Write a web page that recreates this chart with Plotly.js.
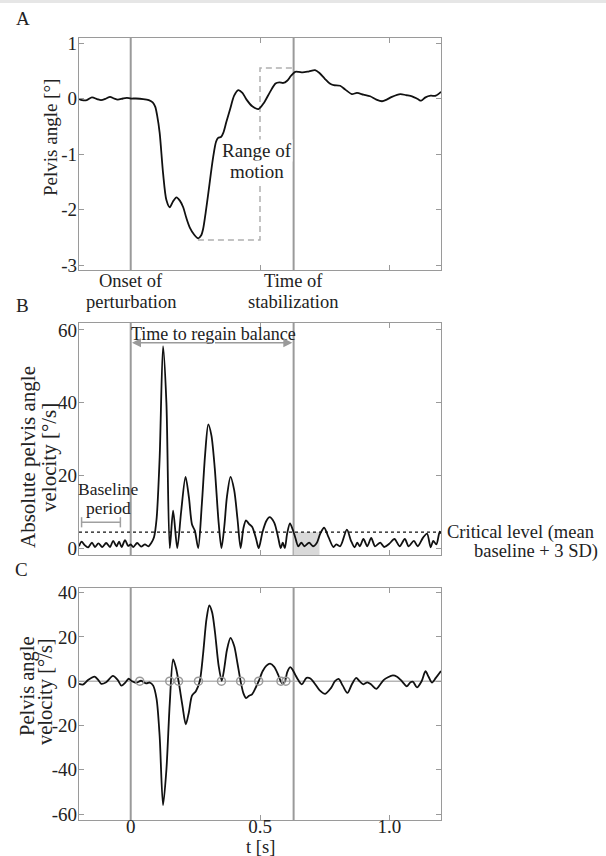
<!DOCTYPE html>
<html>
<head>
<meta charset="utf-8">
<script src="https://cdn.plot.ly/plotly-3.0.1.min.js"></script>
<style>html,body{margin:0;padding:0;background:#fff;}#chart{width:606px;height:856px;}</style>
</head>
<body>
<div id="chart"></div>
<script>
// ---------- data ----------
// Panel A: pelvis angle [deg]
const tA = [-0.2,-0.188,-0.17,-0.15,-0.13,-0.115,-0.095,-0.08,-0.065,-0.05,-0.03,-0.015,0,0.02,0.048,0.07,0.085,0.095,0.102,0.112,0.125,0.138,0.151,0.163,0.177,0.19,0.203,0.215,0.229,0.245,0.261,0.272,0.28,0.29,0.3,0.31,0.319,0.33,0.338,0.35,0.358,0.37,0.384,0.4,0.416,0.432,0.448,0.47,0.494,0.515,0.539,0.56,0.575,0.59,0.605,0.62,0.636,0.65,0.665,0.69,0.713,0.73,0.75,0.77,0.785,0.81,0.83,0.855,0.875,0.9,0.926,0.95,0.972,0.99,1.01,1.043,1.065,1.088,1.11,1.123,1.14,1.16,1.18,1.2];
const angleA = [-0.01,-0.03,-0.03,0.02,-0.01,-0.03,0.0,0.03,0.0,-0.02,0.0,0.01,0.0,0.0,-0.01,-0.03,-0.07,-0.15,-0.3,-0.62,-1.34,-1.83,-1.96,-1.86,-1.78,-1.84,-1.96,-2.15,-2.33,-2.45,-2.52,-2.47,-2.35,-2.05,-1.71,-1.35,-1.05,-0.78,-0.71,-0.69,-0.62,-0.42,-0.2,0.05,0.15,0.1,-0.02,-0.14,-0.19,-0.08,0.12,0.27,0.29,0.28,0.32,0.41,0.48,0.48,0.47,0.49,0.51,0.46,0.36,0.27,0.24,0.23,0.16,0.08,0.1,0.07,0.04,-0.02,-0.05,-0.02,0.03,0.08,0.06,0.04,-0.01,-0.04,0.02,0.05,0.05,0.12];
// Range of motion box (dashed)
const romT = [0.26, 0.5, 0.5, 0.63];
const romV = [-2.55, -2.55, 0.55, 0.55];

// Panel B: absolute pelvis angle velocity [deg/s]
const tB = [-0.2,-0.19,-0.178,-0.165,-0.15,-0.138,-0.125,-0.11,-0.095,-0.08,-0.068,-0.055,-0.045,-0.035,-0.022,-0.01,0,0.01,0.025,0.04,0.055,0.068,0.08,0.09,0.1,0.112,0.125,0.138,0.151,0.164,0.18,0.195,0.212,0.225,0.237,0.248,0.261,0.275,0.288,0.3,0.312,0.325,0.34,0.351,0.362,0.372,0.386,0.4,0.413,0.425,0.436,0.446,0.458,0.47,0.485,0.495,0.51,0.525,0.537,0.555,0.57,0.58,0.588,0.596,0.605,0.616,0.627,0.636,0.648,0.66,0.672,0.69,0.705,0.72,0.733,0.748,0.765,0.784,0.795,0.81,0.836,0.852,0.866,0.876,0.886,0.9,0.915,0.93,0.945,0.965,0.98,1.0,1.02,1.04,1.06,1.075,1.095,1.11,1.13,1.146,1.16,1.17,1.182,1.195,1.2];
const absVelB = [0.5,1.8,0.8,0.2,1.5,0.3,1.3,0.3,1.4,0.3,2.0,0.5,1.8,0.3,2.2,0.6,1.0,0.3,1.4,0.4,1.0,0.5,1.5,3,8,25,55.5,40,0,10.3,0,10,19.6,14,6.5,4.8,0,12,26,34,31,22,7,0,6,14,19.6,16,8,0,5.5,7.6,6.6,5.8,2.5,0,4.5,7.5,8.5,7,3,0,1.5,0,4,6.8,5,3,0.5,1.5,0.5,1.5,0.5,1.5,4,5.6,3,0.3,1,0.5,5.1,2,0.2,1.5,0.5,2.5,0.5,2.8,0.5,1.5,0.3,1.2,2.5,0.5,2.5,0.5,2,0.5,2.8,4,0.2,2,1,4.5,4];
const criticalLevel = 4.4;
const baselinePeriod = [-0.19, -0.04];
const baselineBarLevel = 7.1;
const stableWindow = [0.63, 0.73];
const regainArrowLevel = 56.5;

// Panel C: pelvis angle velocity [deg/s]
const tC = [-0.2,-0.185,-0.165,-0.14,-0.125,-0.114,-0.095,-0.069,-0.05,-0.036,-0.02,-0.008,0.005,0.022,0.04,0.06,0.074,0.087,0.1,0.112,0.125,0.138,0.151,0.164,0.175,0.185,0.2,0.213,0.225,0.237,0.252,0.267,0.28,0.293,0.304,0.315,0.326,0.34,0.352,0.362,0.372,0.386,0.4,0.413,0.425,0.436,0.446,0.458,0.47,0.485,0.495,0.51,0.525,0.539,0.555,0.57,0.58,0.588,0.597,0.605,0.617,0.627,0.636,0.648,0.662,0.68,0.695,0.71,0.73,0.752,0.775,0.79,0.804,0.82,0.838,0.855,0.872,0.885,0.9,0.915,0.93,0.95,0.965,0.978,0.995,1.014,1.03,1.045,1.068,1.082,1.092,1.107,1.125,1.14,1.152,1.165,1.18,1.2];
const velC = [-1.2,-1.5,0.5,2.1,0.5,-1.2,-0.5,2.4,0.5,-2,-0.5,1.1,0,-0.7,0.2,-1,-0.6,-2,-8,-25,-56,-40,-10,9.8,6,0,-11,-19.5,-14,-6.5,-4.5,0,12.4,28,34.2,31,22,7,0.2,6,14,19.6,16,8,0,-5.5,-7.6,-6.6,-5.8,-2.5,0,4.5,7,7.9,6.5,3,0,-1.2,0,4,6.4,5,3,0.5,-1.4,1.5,1.2,-0.8,-4,-5.7,-3,0,1,-2,-5.3,-1.5,1.5,0,-1.4,-0.5,-1.5,-3.5,-1.5,0.5,1.8,2.6,2.0,0.5,-2.3,-0.5,-0.3,-2.8,0,4.5,2,-0.6,1.5,4.6];
const zeroCrossT = [0.035,0.151,0.185,0.262,0.351,0.425,0.495,0.581,0.6];
const zeroCrossV = [0,0,0,0,0,0,0,0,0];

// Event times
const onsetT = 0;
const stabilizationT = 0.63;

// Tick labels
const xTickVals = [0, 0.5, 1.0];
const xTickText = ['0', '0.5', '1.0'];
const yTickValsA = [-3, -2, -1, 0, 1];
const yTickTextA = ['-3', '-2', '-1', '0', '1'];
const yTickValsB = [0, 20, 40, 60];
const yTickTextB = ['0', '20', '40', '60'];
const yTickValsC = [-60, -40, -20, 0, 20, 40];
const yTickTextC = ['-60', '-40', '-20', '0', '20', '40'];

// ---------- layout helpers ----------
const W = 606, H = 856;
const FONT = '"Liberation Serif", "Times New Roman", "DejaVu Serif", serif';
const AX = '#9a9a9a';
const TXT = '#222';
const px = v => v / W;
const py = v => 1 - v / H;
const xDom = [px(79), px(441)];
const domA = [py(270), py(38)];
const domB = [py(555), py(323)];
const domC = [py(820), py(588)];

function xAxis(anchor, showLabels) {
  return {
    domain: xDom, anchor: anchor, range: [-0.2, 1.2],
    tickmode: 'array', tickvals: xTickVals, ticktext: xTickText,
    showticklabels: showLabels, ticks: 'inside', ticklen: 5, tickcolor: AX, tickwidth: 1,
    showline: true, linecolor: AX, linewidth: 1.2, mirror: 'ticks',
    showgrid: false, zeroline: false, ticklabelstandoff: -11,
    tickfont: {family: FONT, size: 19, color: TXT}
  };
}
function yAxis(anchor, dom, range, vals, text) {
  return {
    domain: dom, anchor: anchor, range: range,
    tickmode: 'array', tickvals: vals, ticktext: text,
    ticks: 'inside', ticklen: 5, tickcolor: AX, tickwidth: 1,
    showline: true, linecolor: AX, linewidth: 1.2, mirror: 'ticks',
    showgrid: false, zeroline: false, ticklabelstandoff: -3,
    tickfont: {family: FONT, size: 19, color: TXT}
  };
}

const blackLine = {color: '#111', width: 1.8, shape: 'spline', smoothing: 0.8};

const traces = [
  {x: romT, y: romV, xaxis: 'x', yaxis: 'y', mode: 'lines', line: {color: '#b0b0b0', width: 1.5, dash: '6px,4px'}, hoverinfo: 'skip'},
  {x: tA, y: angleA, xaxis: 'x', yaxis: 'y', mode: 'lines', line: blackLine},
  {x: tB, y: absVelB, xaxis: 'x2', yaxis: 'y2', mode: 'lines', line: blackLine},
  {x: tC, y: velC, xaxis: 'x3', yaxis: 'y3', mode: 'lines', line: blackLine},
  {x: zeroCrossT, y: zeroCrossV, xaxis: 'x3', yaxis: 'y3', mode: 'markers',
   marker: {symbol: 'circle-open', size: 8, color: '#9a9a9a', line: {width: 1.5, color: '#9a9a9a'}}}
];

const shapes = [];
// light strip at very top (screenshot border)
shapes.push({type: 'rect', xref: 'paper', yref: 'paper', x0: 0, x1: 1, y0: py(3), y1: 1, fillcolor: '#e6e6e6', line: {width: 0}, layer: 'below'});
// vertical event lines
[['x','y'],['x2','y2'],['x3','y3']].forEach(([xr, yr]) => {
  [onsetT, stabilizationT].forEach(t => {
    shapes.push({type: 'line', xref: xr, yref: yr + ' domain', x0: t, x1: t, y0: 0, y1: 1, line: {color: AX, width: 2}, layer: 'below'});
  });
});
// shaded stable window in B
shapes.push({type: 'rect', xref: 'x2', yref: 'y2', x0: stableWindow[0], x1: stableWindow[1], y0: -1.9, y1: criticalLevel, fillcolor: '#d9d9d9', line: {width: 0}, layer: 'below'});
// critical level dotted line
shapes.push({type: 'line', xref: 'x2', yref: 'y2', x0: -0.2, x1: 1.2, y0: criticalLevel, y1: criticalLevel, line: {color: '#111', width: 1.2, dash: 'dot'}});
// baseline period bar with caps
shapes.push({type: 'line', xref: 'x2', yref: 'y2', x0: baselinePeriod[0], x1: baselinePeriod[1], y0: baselineBarLevel, y1: baselineBarLevel, line: {color: '#a0a0a0', width: 1.5}});
baselinePeriod.forEach(t => shapes.push({type: 'line', xref: 'x2', yref: 'y2', x0: t, x1: t, y0: baselineBarLevel - 1.4, y1: baselineBarLevel + 1.4, line: {color: '#a0a0a0', width: 1.5}}));
// zero line in C
shapes.push({type: 'line', xref: 'x3', yref: 'y3', x0: -0.2, x1: 1.2, y0: 0, y1: 0, line: {color: '#b5b5b5', width: 1.5}, layer: 'below'});

function txt(text, xPix, yPix, size, extra) {
  return Object.assign({text: text, xref: 'paper', yref: 'paper', x: px(xPix), y: py(yPix),
    xanchor: 'center', yanchor: 'middle', showarrow: false, borderpad: 0,
    font: {family: FONT, size: size, color: TXT}}, extra || {});
}
const annotations = [
  txt('A', 23, 18, 19),
  txt('B', 22, 305, 19),
  txt('C', 21, 569, 19),
  txt('Pelvis angle [°]', 50, 138, 19, {textangle: -90}),
  txt('Absolute pelvis angle', 28, 457, 21, {textangle: -90}),
  txt('velocity [°/s]', 49, 457, 21, {textangle: -90}),
  txt('Pelvis angle', 27, 686, 20.5, {textangle: -90}),
  txt('velocity [°/s]', 45, 692, 20.5, {textangle: -90}),
  txt('t [s]', 260, 846.5, 18.5),
  txt('Onset of', 131, 281, 18.5),
  txt('perturbation', 131, 302, 18.5),
  txt('Time of', 293, 281, 18.5),
  txt('stabilization', 293, 302, 18.5),
  txt('Range of', 257, 150, 19, {bgcolor: '#fff'}),
  txt('motion', 257, 172, 19, {bgcolor: '#fff'}),
  txt('Time to regain balance', 213, 334, 18),
  txt('Baseline', 108, 489, 17.5),
  txt('period', 108, 508, 17.5),
  txt('Critical level (mean', 446, 532, 18.5, {xanchor: 'left'}),
  txt('baseline + 3 SD)', 599, 551, 18.5, {xanchor: 'right'}),
  {xref: 'x2', yref: 'y2', axref: 'x2', ayref: 'y2', x: onsetT + 0.005, y: regainArrowLevel, ax: 0.32, ay: regainArrowLevel, text: '', showarrow: true, arrowhead: 2, arrowsize: 1.2, arrowwidth: 1.5, arrowcolor: '#9a9a9a'},
  {xref: 'x2', yref: 'y2', axref: 'x2', ayref: 'y2', x: stabilizationT - 0.005, y: regainArrowLevel, ax: 0.32, ay: regainArrowLevel, text: '', showarrow: true, arrowhead: 2, arrowsize: 1.2, arrowwidth: 1.5, arrowcolor: '#9a9a9a'}
];

const layout = {
  width: W, height: H,
  margin: {l: 0, r: 0, t: 0, b: 0},
  paper_bgcolor: '#fff', plot_bgcolor: '#fff',
  showlegend: false,
  font: {family: FONT, size: 19, color: TXT},
  xaxis: xAxis('y', false),
  yaxis: yAxis('x', domA, [-3.09, 1.09], yTickValsA, yTickTextA),
  xaxis2: xAxis('y2', false),
  yaxis2: yAxis('x2', domB, [-1.9, 61.9], yTickValsB, yTickTextB),
  xaxis3: xAxis('y3', true),
  yaxis3: yAxis('x3', domC, [-62.7, 42.1], yTickValsC, yTickTextC),
  shapes: shapes,
  annotations: annotations
};

Plotly.newPlot('chart', traces, layout, {staticPlot: true, displayModeBar: false});
</script>
</body>
</html>
